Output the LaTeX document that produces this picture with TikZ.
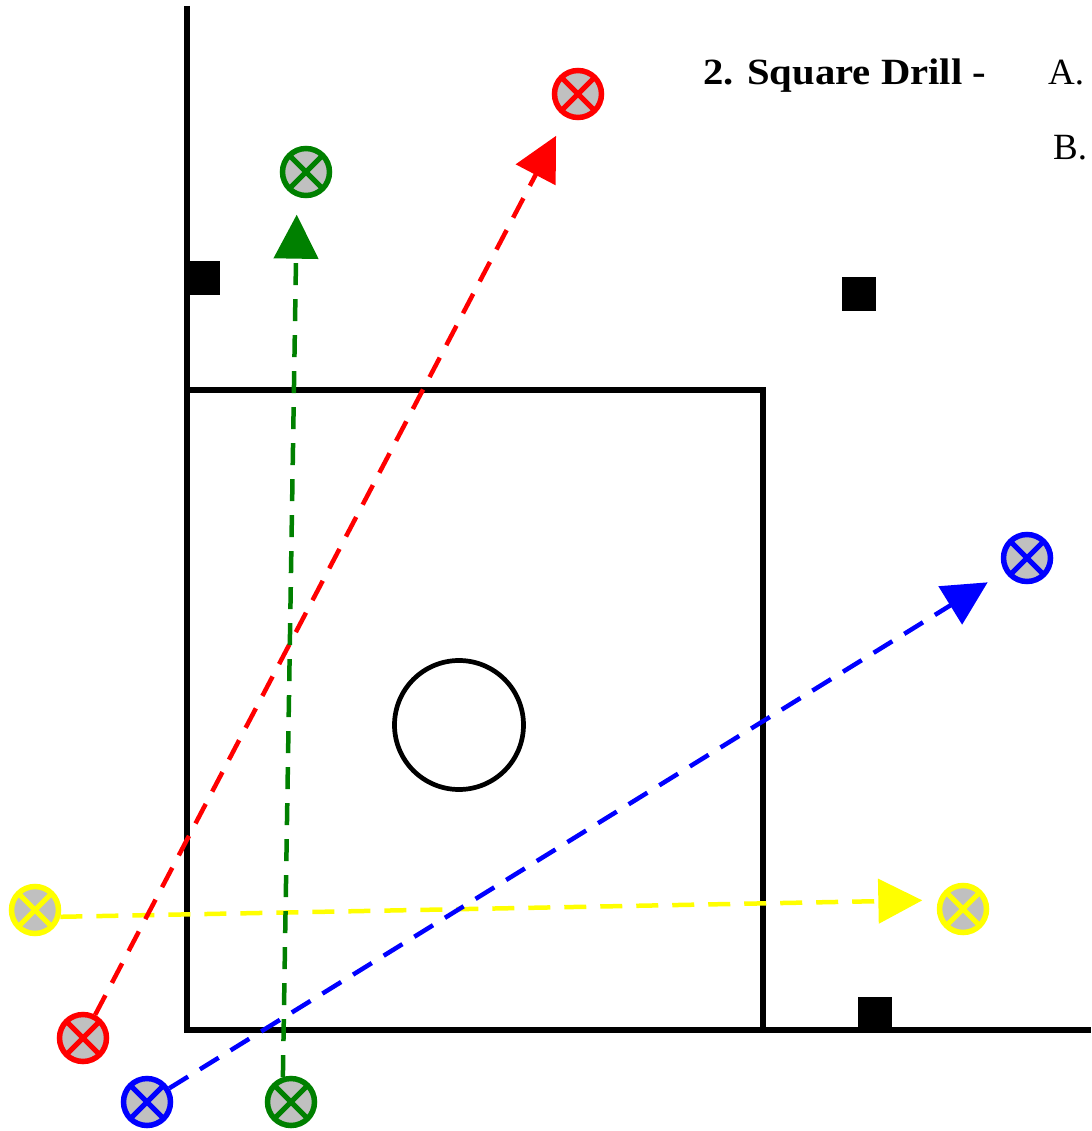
\documentclass[tikz,border=0pt]{standalone}
\usepackage{fontspec}
\setmainfont{Liberation Serif}
\usepackage{xcolor}
\definecolor{drillred}{HTML}{FF0000}
\definecolor{drillgreen}{HTML}{008000}
\definecolor{drillblue}{HTML}{0000FF}
\definecolor{drillyellow}{HTML}{FFFF00}
\definecolor{silver}{HTML}{C0C0C0}
\usetikzlibrary{arrows.meta}

\begin{document}
\begin{tikzpicture}[x=1pt, y=-1pt,
	field/.style={line width=5.5pt, black},
	bag/.style={fill=black, minimum size=34pt, inner sep=0pt},
	player/.style={circle, draw=#1, line width=5.5pt, fill=silver, minimum size=47pt, inner sep=0pt,
		path picture={\draw[#1, line width=5pt]
			(path picture bounding box.south west) -- (path picture bounding box.north east)
			(path picture bounding box.north west) -- (path picture bounding box.south east);}},
	run/.style={#1, line width=4.5pt, dash pattern=on 22pt off 14pt, -{Triangle[length=44pt, width=44pt]}},
	label/.style={anchor=base west, inner sep=0pt, font=\fontsize{37}{42}\selectfont}]
	
	\useasboundingbox (0,0) rectangle (1091,1131);
	
	% field
	\draw[field] (187,6) -- (187,1030) -- (1091,1030);
	\draw[field] (187,390) -- (763,390) -- (763,1030);
	\draw[line width=4.7pt] (459,725) circle[radius=64.5];
	
	\node[bag] (bagA) at (203,278) {};
	\node[bag] (bagB) at (859,294) {};
	\node[bag] (bagC) at (875,1014) {};
	
	% players
	\node[player=drillred] (rt) at (578,94) {};
	\node[player=drillgreen] (gt) at (306,172) {};
	\node[player=drillblue] (bt) at (1027,558) {};
	\node[player=drillyellow] (yr) at (963,909) {};
	\node[player=drillyellow] (yl) at (35,910) {};
	\node[player=drillred] (rb) at (83,1038) {};
	\node[player=drillblue] (bb) at (147,1102) {};
	\node[player=drillgreen] (gb) at (291,1102) {};
	
	% runs
	\draw[run=drillyellow, shorten >=16pt] (yl.-15) -- (yr.160);
	\draw[run=drillred, shorten >=21pt] (rb) -- (rt);
	\draw[run=drillblue, shorten >=20pt] (bb) -- (bt);
	\draw[run=drillgreen, shorten >=18pt] (gb.108) -- (gt.250);
	
	% text
	\node[label, xscale=1.1, font=\fontsize{37}{42}\selectfont\bfseries] (title) at (703,85) {2. Square Drill -};
	\node[label] (stepA) at (1048,85) {A.};
	\node[label] (stepB) at (1053,160) {B.};
\end{tikzpicture}
\end{document}
